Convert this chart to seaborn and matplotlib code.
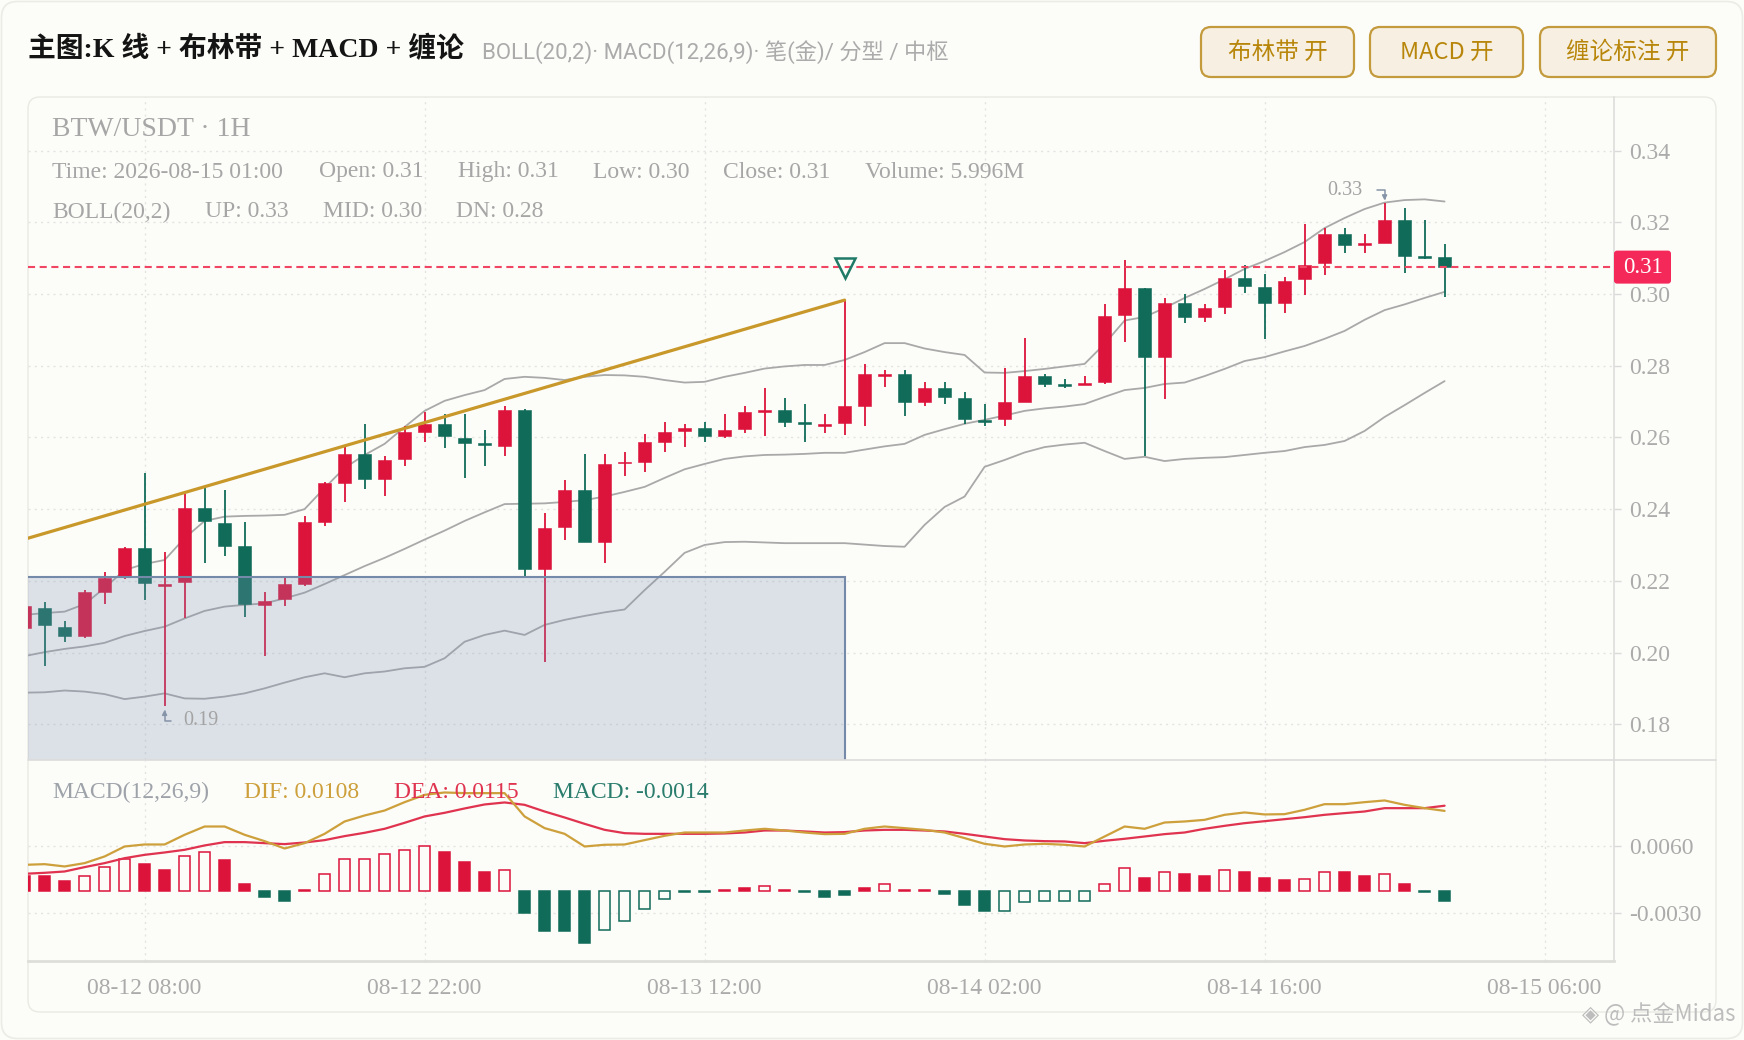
import numpy as np
import pandas as pd
import matplotlib
matplotlib.use("Agg")
import matplotlib.pyplot as plt
import matplotlib.dates as mdates
import matplotlib.transforms as mtransforms
from matplotlib.patches import FancyBboxPatch, Rectangle
from matplotlib.lines import Line2D
import seaborn as sns

# ---------------- data ----------------
first_bar = "2026-08-12 02:00"

opens = [0.2069, 0.2123, 0.2072, 0.2046, 0.2170, 0.2211, 0.2291, 0.2186, 0.2198, 0.2402,
         0.2362, 0.2297, 0.2132, 0.2148, 0.2190, 0.2365, 0.2472, 0.2554, 0.2483, 0.2539,
         0.2616, 0.2637, 0.2597, 0.2582, 0.2577, 0.2676, 0.2232, 0.2349, 0.2453, 0.2309,
         0.2528, 0.2532, 0.2588, 0.2618, 0.2625, 0.2605, 0.2623, 0.2672, 0.2676, 0.2642,
         0.2634, 0.2639, 0.2688, 0.2771, 0.2776, 0.2700, 0.2737, 0.2709, 0.2649, 0.2650,
         0.2700, 0.2771, 0.2749, 0.2745, 0.2755, 0.2941, 0.3016, 0.2823, 0.2976, 0.2935,
         0.2963, 0.3044, 0.3020, 0.2974, 0.3042, 0.3086, 0.3167, 0.3137, 0.3141, 0.3206,
         0.3105, 0.3104]
highs = [0.2145, 0.2140, 0.2089, 0.2174, 0.2224, 0.2293, 0.2500, 0.2280, 0.2444, 0.2460,
         0.2453, 0.2363, 0.2169, 0.2209, 0.2381, 0.2476, 0.2572, 0.2637, 0.2548, 0.2632,
         0.2672, 0.2665, 0.2664, 0.2621, 0.2688, 0.2678, 0.2388, 0.2481, 0.2554, 0.2554,
         0.2560, 0.2609, 0.2644, 0.2637, 0.2642, 0.2665, 0.2688, 0.2737, 0.2709, 0.2693,
         0.2664, 0.2983, 0.2805, 0.2788, 0.2788, 0.2754, 0.2754, 0.2726, 0.2693, 0.2793,
         0.2876, 0.2777, 0.2762, 0.2771, 0.2972, 0.3095, 0.3018, 0.2988, 0.2999, 0.2971,
         0.3067, 0.3081, 0.3055, 0.3048, 0.3195, 0.3183, 0.3183, 0.3167, 0.3253, 0.3239,
         0.3206, 0.3139]
lows = [0.2055, 0.1963, 0.2030, 0.2041, 0.2135, 0.2204, 0.2146, 0.1852, 0.2095, 0.2249,
        0.2269, 0.2098, 0.1990, 0.2131, 0.2186, 0.2353, 0.2421, 0.2455, 0.2437, 0.2521,
        0.2588, 0.2571, 0.2488, 0.2520, 0.2548, 0.2210, 0.1974, 0.2314, 0.2307, 0.2249,
        0.2493, 0.2504, 0.2560, 0.2572, 0.2588, 0.2597, 0.2611, 0.2604, 0.2628, 0.2588,
        0.2611, 0.2607, 0.2633, 0.2740, 0.2661, 0.2688, 0.2693, 0.2637, 0.2633, 0.2633,
        0.2698, 0.2740, 0.2739, 0.2745, 0.2749, 0.2867, 0.2549, 0.2706, 0.2918, 0.2923,
        0.2944, 0.3002, 0.2874, 0.2946, 0.2997, 0.3053, 0.3114, 0.3114, 0.3141, 0.3058,
        0.3099, 0.2992]
closes = [0.2131, 0.2076, 0.2047, 0.2170, 0.2209, 0.2291, 0.2193, 0.2190, 0.2402, 0.2367,
          0.2298, 0.2134, 0.2144, 0.2191, 0.2363, 0.2472, 0.2554, 0.2483, 0.2537, 0.2616,
          0.2637, 0.2604, 0.2584, 0.2579, 0.2676, 0.2232, 0.2346, 0.2453, 0.2309, 0.2526,
          0.2532, 0.2586, 0.2614, 0.2625, 0.2605, 0.2621, 0.2672, 0.2676, 0.2644, 0.2639,
          0.2637, 0.2688, 0.2776, 0.2776, 0.2700, 0.2737, 0.2712, 0.2650, 0.2644, 0.2698,
          0.2771, 0.2749, 0.2745, 0.2753, 0.2939, 0.3016, 0.2823, 0.2976, 0.2935, 0.2960,
          0.3044, 0.3023, 0.2974, 0.3037, 0.3081, 0.3167, 0.3137, 0.3141, 0.3206, 0.3107,
          0.3100, 0.3075]

boll_up = [0.2105, 0.2110, 0.2114, 0.2135, 0.2180, 0.2230, 0.2247, 0.2258, 0.2319, 0.2367,
           0.2379, 0.2381, 0.2382, 0.2384, 0.2400, 0.2459, 0.2515, 0.2551, 0.2582, 0.2629,
           0.2674, 0.2702, 0.2718, 0.2732, 0.2763, 0.2769, 0.2766, 0.2760, 0.2769, 0.2774,
           0.2773, 0.2769, 0.2760, 0.2753, 0.2755, 0.2769, 0.2780, 0.2792, 0.2798, 0.2802,
           0.2802, 0.2816, 0.2838, 0.2863, 0.2863, 0.2848, 0.2838, 0.2830, 0.2781, 0.2780,
           0.2785, 0.2791, 0.2798, 0.2805, 0.2861, 0.2926, 0.2936, 0.2961, 0.2989, 0.3014,
           0.3041, 0.3070, 0.3092, 0.3117, 0.3145, 0.3184, 0.3212, 0.3237, 0.3255, 0.3262,
           0.3264, 0.3258]
boll_mid = [0.1990, 0.2001, 0.2010, 0.2017, 0.2027, 0.2046, 0.2060, 0.2072, 0.2095, 0.2116,
            0.2128, 0.2133, 0.2137, 0.2151, 0.2167, 0.2191, 0.2216, 0.2241, 0.2264, 0.2289,
            0.2315, 0.2340, 0.2367, 0.2391, 0.2414, 0.2415, 0.2416, 0.2420, 0.2425, 0.2435,
            0.2448, 0.2462, 0.2487, 0.2511, 0.2526, 0.2540, 0.2547, 0.2551, 0.2552, 0.2554,
            0.2557, 0.2557, 0.2566, 0.2575, 0.2582, 0.2607, 0.2623, 0.2638, 0.2649, 0.2661,
            0.2674, 0.2681, 0.2686, 0.2693, 0.2713, 0.2732, 0.2738, 0.2749, 0.2753, 0.2771,
            0.2791, 0.2813, 0.2824, 0.2840, 0.2855, 0.2875, 0.2897, 0.2928, 0.2955, 0.2971,
            0.2989, 0.3006]
boll_dn = [0.1888, 0.1889, 0.1894, 0.1891, 0.1884, 0.1870, 0.1877, 0.1886, 0.1872, 0.1871,
           0.1877, 0.1886, 0.1900, 0.1916, 0.1931, 0.1942, 0.1931, 0.1942, 0.1947, 0.1956,
           0.1960, 0.1984, 0.2030, 0.2049, 0.2061, 0.2049, 0.2077, 0.2091, 0.2102, 0.2112,
           0.2120, 0.2174, 0.2225, 0.2278, 0.2300, 0.2308, 0.2309, 0.2307, 0.2305, 0.2305,
           0.2305, 0.2305, 0.2301, 0.2297, 0.2295, 0.2356, 0.2406, 0.2435, 0.2518, 0.2537,
           0.2558, 0.2573, 0.2580, 0.2585, 0.2562, 0.2540, 0.2546, 0.2534, 0.2540, 0.2543,
           0.2545, 0.2551, 0.2557, 0.2562, 0.2573, 0.2579, 0.2590, 0.2618, 0.2657, 0.2690,
           0.2724, 0.2757]

dif = [0.00351, 0.00360, 0.00329, 0.00374, 0.00464, 0.00599, 0.00626, 0.00626, 0.00757, 0.00869,
       0.00869, 0.00757, 0.00671, 0.00572, 0.00644, 0.00770, 0.00937, 0.01018, 0.01085, 0.01198,
       0.01297, 0.01329, 0.01320, 0.01320, 0.01320, 0.01005, 0.00847, 0.00770, 0.00599, 0.00622,
       0.00626, 0.00685, 0.00743, 0.00788, 0.00788, 0.00788, 0.00815, 0.00838, 0.00815, 0.00788,
       0.00766, 0.00770, 0.00838, 0.00869, 0.00847, 0.00824, 0.00788, 0.00712, 0.00635, 0.00599,
       0.00626, 0.00635, 0.00622, 0.00599, 0.00734, 0.00869, 0.00838, 0.00923, 0.00937, 0.00959,
       0.01027, 0.01059, 0.01032, 0.01036, 0.01095, 0.01171, 0.01171, 0.01198, 0.01221, 0.01162,
       0.01117, 0.01080]
dea = [0.00230, 0.00243, 0.00261, 0.00320, 0.00374, 0.00441, 0.00486, 0.00518, 0.00554, 0.00613,
       0.00658, 0.00658, 0.00644, 0.00631, 0.00653, 0.00685, 0.00739, 0.00784, 0.00838, 0.00919,
       0.01005, 0.01054, 0.01113, 0.01167, 0.01194, 0.01162, 0.01072, 0.00991, 0.00905, 0.00824,
       0.00779, 0.00770, 0.00770, 0.00770, 0.00770, 0.00775, 0.00788, 0.00815, 0.00815, 0.00802,
       0.00788, 0.00793, 0.00815, 0.00824, 0.00824, 0.00815, 0.00802, 0.00770, 0.00734, 0.00698,
       0.00680, 0.00671, 0.00667, 0.00644, 0.00676, 0.00703, 0.00734, 0.00766, 0.00788, 0.00838,
       0.00878, 0.00914, 0.00941, 0.00968, 0.00995, 0.01027, 0.01050, 0.01072, 0.01117, 0.01117,
       0.01117, 0.01150]
macd_hist = [0.00203, 0.00203, 0.00126, 0.00194, 0.00320, 0.00432, 0.00365, 0.00284, 0.00473, 0.00523,
             0.00419, 0.00095, -0.00086, -0.00144, 0.00012, 0.00225, 0.00432, 0.00432, 0.00500, 0.00545,
             0.00608, 0.00523, 0.00387, 0.00252, 0.00275, -0.00302, -0.00550, -0.00550, -0.00700, -0.00536,
             -0.00414, -0.00248, -0.00108, -0.00012, -0.00012, 0.00012, 0.00036, 0.00068, 0.00012, -0.00012,
             -0.00086, -0.00054, 0.00036, 0.00095, 0.00012, 0.00012, -0.00040, -0.00198, -0.00270, -0.00270,
             -0.00158, -0.00135, -0.00135, -0.00135, 0.00090, 0.00306, 0.00171, 0.00252, 0.00230, 0.00203,
             0.00275, 0.00252, 0.00171, 0.00149, 0.00162, 0.00252, 0.00252, 0.00203, 0.00225, 0.00095,
             -0.00012, -0.00144]
hist_hollow = [0, 0, 0, 1, 1, 1, 0, 0, 1, 1,
               0, 0, 0, 0, 1, 1, 1, 1, 1, 1,
               1, 0, 0, 0, 1, 0, 0, 0, 0, 1,
               1, 1, 1, 0, 0, 0, 0, 1, 0, 0,
               0, 0, 0, 1, 0, 0, 0, 0, 0, 1,
               1, 1, 1, 1, 1, 1, 0, 1, 0, 0,
               1, 0, 0, 0, 1, 1, 0, 0, 1, 0,
               0, 0]

xtick_labels = ["08-12 08:00", "08-12 22:00", "08-13 12:00", "08-14 02:00", "08-14 16:00", "08-15 06:00"]
price_ticks = [0.18, 0.20, 0.22, 0.24, 0.26, 0.28, 0.30, 0.32, 0.34]
macd_ticks = [-0.0030, 0.0060]

bi_times = ["2026-08-11 22:00", "2026-08-13 19:00"]
bi_prices = [0.2251, 0.2983]
fractal_time = "2026-08-13 19:00"
fractal_price = 0.3072
zs_times = ["2026-08-11 18:00", "2026-08-13 19:00"]
zs_range = [0.1650, 0.2211]
volume_text = "5.996M"

# ---------------- style ----------------
sns.set_theme(style="white")
plt.rcParams["font.family"] = ["Liberation Serif", "Noto Sans CJK SC", "DejaVu Sans"]
plt.rcParams["axes.unicode_minus"] = False

W, H, DPI = 1744, 1040, 100
BG = "#FCFCF8"
RED = "#DC143C"
GREEN = "#116B59"
GOLD = "#C9982A"
DIF_C = "#CDA03C"
DEA_C = "#E0334F"
BOLL_C = "#A9A9A9"
GRID = "#E3E3E3"
TXT = "#A6A6A6"
PRICE_C = "#F04664"

times = pd.date_range(first_bar, periods=len(opens), freq="h")
xs = mdates.date2num(times)
hour = 1.0 / 24
o = np.array(opens); c = np.array(closes); hi = np.array(highs); lo = np.array(lows)

fig = plt.figure(figsize=(W / DPI, H / DPI), dpi=DPI)
fig.patch.set_facecolor(BG)
ident = mtransforms.IdentityTransform()

def rect(x0, y0, x1, y1):
    return [x0 / W, 1 - y1 / H, (x1 - x0) / W, (y1 - y0) / H]

# outer frame and card
fig.add_artist(FancyBboxPatch((1.5, 1.5), W - 3, H - 3, boxstyle="round,pad=0,rounding_size=16",
                              transform=ident, fc=BG, ec="#ECECE6", lw=1.2, zorder=-3))
fig.add_artist(FancyBboxPatch((28, H - 1012), 1688, 915, boxstyle="round,pad=0,rounding_size=12",
                              transform=ident, fc=BG, ec="#EAEAE3", lw=1.0, zorder=-2))

ax = fig.add_axes(rect(28, 97, 1614, 759.7))
ax2 = fig.add_axes(rect(28, 759.7, 1614, 961), sharex=ax)
for a in (ax, ax2):
    a.set_facecolor("none")

anchor = mdates.date2num(pd.Timestamp("2026-08-12 08:00"))
ax.set_xlim(anchor - 5.83 * hour, anchor + 73.47 * hour)
ax.set_ylim(0.17010, 0.35495)
ax2.set_ylim(-0.00949, 0.01772)

# Bollinger bands
bands = pd.DataFrame({"x": xs, "up": boll_up, "mid": boll_mid, "dn": boll_dn})
for col in ("up", "mid", "dn"):
    sns.lineplot(data=bands, x="x", y=col, ax=ax, color=BOLL_C, lw=1.3, zorder=1.5)

# candles
cols = [RED if cc >= oo else GREEN for oo, cc in zip(o, c)]
ax.vlines(xs, lo, hi, colors=cols, lw=1.3, zorder=2)
min_h = 0.0005
bh = np.maximum(np.abs(c - o), min_h)
bb = np.minimum(o, c) - (bh - np.abs(c - o)) / 2
ax.bar(xs, bh, bottom=bb, width=0.65 * hour, color=cols, edgecolor=cols, lw=0.4, zorder=2.1)

# zhongshu box
zx = mdates.date2num(pd.to_datetime(zs_times))
ax.add_patch(Rectangle((zx[0], zs_range[0]), zx[1] - zx[0], zs_range[1] - zs_range[0],
                       fc="#7F93B5", alpha=0.25, ec="none", zorder=2.5))
ax.add_patch(Rectangle((zx[0], zs_range[0]), zx[1] - zx[0], zs_range[1] - zs_range[0],
                       fill=False, ec="#7589A8", lw=1.5, zorder=2.6))

# bi line and fractal marker
bx = mdates.date2num(pd.to_datetime(bi_times))
ax.plot(bx, bi_prices, color=GOLD, lw=2.3, zorder=3, solid_capstyle="round")
ax.plot([mdates.date2num(pd.Timestamp(fractal_time))], [fractal_price], marker="v", ms=15,
        mfc="none", mec="#1F7A68", mew=1.8, zorder=4)

# last price line
last = closes[-1]
ax.axhline(last, color=PRICE_C, lw=1.5, ls=(0, (3.4, 2.2)), zorder=3.5)

# extreme labels
i_lo = int(np.argmin(lo)); i_hi = int(np.argmax(hi))
ax.annotate(f"{lows[i_lo]:.2f}", xy=(xs[i_lo], lows[i_lo]), xytext=(19, -15), textcoords="offset pixels",
            ha="left", va="center", fontsize=14.5, color="#A3A3A3",
            arrowprops=dict(arrowstyle="-|>", connectionstyle="angle,angleA=0,angleB=90,rad=0",
                            color="#8594A8", lw=1.1, shrinkA=7, shrinkB=3, mutation_scale=7,
                            relpos=(0, 0.5)), zorder=5)
ax.annotate(f"{highs[i_hi]:.2f}", xy=(xs[i_hi], highs[i_hi]), xytext=(-22, 13), textcoords="offset pixels",
            ha="right", va="center", fontsize=14.5, color="#A3A3A3",
            arrowprops=dict(arrowstyle="-|>", connectionstyle="angle,angleA=0,angleB=90,rad=0",
                            color="#8594A8", lw=1.1, shrinkA=8, shrinkB=2, mutation_scale=7,
                            relpos=(1, 0.5)), zorder=5)

# MACD panel
hcols = [RED if v >= 0 else GREEN for v in macd_hist]
faces = [BG if h else hc for h, hc in zip(hist_hollow, hcols)]
ax2.bar(xs, macd_hist, width=0.56 * hour, color=faces, edgecolor=hcols, lw=1.1, zorder=2)
macd_df = pd.DataFrame({"x": xs, "dif": dif, "dea": dea})
sns.lineplot(data=macd_df, x="x", y="dea", ax=ax2, color=DEA_C, lw=1.6, zorder=3)
sns.lineplot(data=macd_df, x="x", y="dif", ax=ax2, color=DIF_C, lw=1.6, zorder=3)

# axes cosmetics
tick_pos = mdates.date2num(pd.to_datetime(["2026-" + t for t in xtick_labels], format="%Y-%m-%d %H:%M"))
grid_ls = (0, (1.5, 3))
for a in (ax, ax2):
    a.set_xlabel(""); a.set_ylabel("")
    a.set_xticks(tick_pos)
    a.yaxis.tick_right()
    a.grid(True, color=GRID, ls=grid_ls, lw=1.0)
    for s in ("top", "left", "bottom"):
        a.spines[s].set_visible(False)
    a.spines["right"].set_color("#DDDDDD")
    a.spines["right"].set_linewidth(1.2)
ax.set_yticks(price_ticks)
ax.set_yticklabels([f"{v:.2f}" for v in price_ticks])
ax.tick_params(axis="x", length=0, labelbottom=False)
ax2.set_yticks(macd_ticks)
ax2.set_yticklabels([f"{v:.4f}" for v in macd_ticks])
ax2.set_xticklabels(xtick_labels)
ax2.spines["bottom"].set_visible(True)
ax2.spines["bottom"].set_color("#DDDDDA")
ax2.spines["bottom"].set_linewidth(2)
for a in (ax, ax2):
    a.tick_params(axis="y", length=5, width=1, color="#DADADA", pad=6, labelsize=17, labelcolor="#ABABAB")
ax2.tick_params(axis="x", length=5, width=1, color="#DADADA", pad=7, labelsize=17, labelcolor="#ABABAB")

# separator between panels
fig.add_artist(Line2D([28 / W, 1716 / W], [1 - 759.7 / H] * 2, transform=fig.transFigure,
                      color="#DCDCDC", lw=1.2))

# last price tag
y_disp = ax.transData.transform((xs[-1], last))[1]
fig.add_artist(FancyBboxPatch((1614, y_disp - 16.5), 57, 33, boxstyle="round,pad=0,rounding_size=3",
                              transform=ident, fc="#F5285A", ec="none", zorder=5))
fig.text(1642.5 / W, y_disp / H, f"{last:.2f}", color="white", fontsize=16.5, ha="center", va="center", zorder=6)

# texts
def ftext(px, py, s, **kw):
    kw.setdefault("va", "center"); kw.setdefault("ha", "left")
    return fig.text(px / W, 1 - py / H, s, **kw)

ftext(27.8, 50, "主图:K 线 + 布林带 + MACD + 缠论", fontsize=20, fontweight="bold", color="#141414",
      family=["Liberation Serif", "Noto Sans CJK SC"])
ftext(481.6, 52, "BOLL(20,2)· MACD(12,26,9)· 笔(金)/ 分型 / 中枢", fontsize=16, color="#ABABAB",
      family=["Roboto", "Noto Sans CJK SC", "DejaVu Sans"])

buttons = [(1201, 1354, "布林带 开"), (1370, 1523, "MACD 开"), (1540, 1716, "缠论标注 开")]
for x0, x1, lab in buttons:
    fig.add_artist(FancyBboxPatch((x0, H - 77), x1 - x0, 50, boxstyle="round,pad=0,rounding_size=10",
                                  transform=ident, fc="#F7F0E2", ec="#C39A3C", lw=1.6))
    ftext((x0 + x1) / 2, 52, lab, ha="center", fontsize=17, color="#B8860B",
          family=["Noto Sans CJK SC", "DejaVu Sans"])

ftext(52.3, 130, "BTW/USDT · 1H", fontsize=20, color=TXT)
info = [(52.3, f"Time: {times[-1]:%Y-%m-%d %H:%M}"), (319.2, f"Open: {opens[-1]:.2f}"),
        (458.2, f"High: {highs[-1]:.2f}"), (592.8, f"Low: {lows[-1]:.2f}"),
        (722.9, f"Close: {closes[-1]:.2f}"), (865.3, f"Volume: {volume_text}")]
for px, s in info:
    ftext(px, 172, s, fontsize=17, color=TXT)
boll_info = [(52.3, "BOLL(20,2)"), (204.6, f"UP: {boll_up[-1]:.2f}"),
             (322.5, f"MID: {boll_mid[-1]:.2f}"), (456.0, f"DN: {boll_dn[-1]:.2f}")]
for px, s in boll_info:
    ftext(px, 212, s, fontsize=17, color=TXT)
macd_info = [(52.3, "MACD(12,26,9)", "#9EA3AA"), (243.6, f"DIF: {dif[-1]:.4f}", DIF_C),
             (393.7, f"DEA: {dea[-1]:.4f}", DEA_C), (552.8, f"MACD: {macd_hist[-1]:.4f}", "#2A7D6D")]
for px, s, colr in macd_info:
    ftext(px, 792, s, fontsize=17, color=colr, zorder=6)

ftext(1735, 1014, "◈ @ 点金Midas", ha="right", fontsize=16, color="#BDBDBD",
      family=["Noto Sans CJK SC", "DejaVu Sans"])

fig.savefig("out.png", dpi=DPI, facecolor=BG)
